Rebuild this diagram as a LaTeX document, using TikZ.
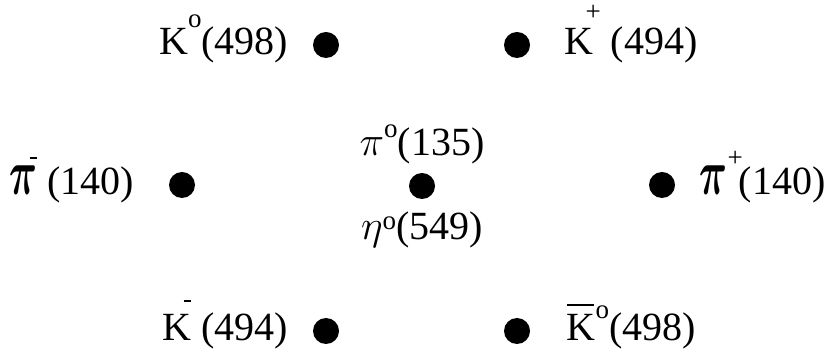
\documentclass[tikz,border=0pt]{standalone}
\usepackage{bm}
\usepackage{fontspec}
\usepackage{graphicx}
\setmainfont{Liberation Serif}
\usetikzlibrary{positioning}
\newcommand{\hi}[2][13.5pt]{\raisebox{#1}{\fontsize{13.5}{14}\selectfont #2}}
\newcommand{\bigpi}{\scalebox{0.78}[1.3]{\fontsize{28}{28}\selectfont$\bm{\pi}$}}
\newcommand{\gk}[1]{{\fontsize{22}{22}\selectfont$#1$}}
\newcommand{\dash}[1]{\llap{\rule[#1]{3.5pt}{1pt}\kern0.5pt}}

\begin{document}
\begin{tikzpicture}[x=0.5pt,y=-0.5pt,
  dot/.style={circle,fill,inner sep=0pt,minimum size=13pt},
  lbl/.style={inner sep=0pt,text height=15pt,text depth=5pt,font=\fontsize{20}{24}\selectfont}]
  \useasboundingbox (0,0) rectangle (829,351);
  % meson octet
  \node[dot] (K0)    at (326,45)  {};
  \node[dot] (Kp)    at (517,45)  {};
  \node[dot] (pim)   at (182,185) {};
  \node[dot] (pi0)   at (422,186) {};
  \node[dot] (pip)   at (662,185) {};
  \node[dot] (Km)    at (326,331) {};
  \node[dot] (K0bar) at (517,331) {};
  % masses
  \node[lbl,left=12pt of K0]       (lK0)    {K\hi{o}(498)};
  \node[lbl,right=17pt of Kp]      (lKp)    {K\kern-0.2em\hi[17pt]{+} (494)};
  \node[lbl,left=17pt of pim]      (lpim)   {\bigpi\dash{18pt} (140)};
  \node[lbl,right=12pt of pip]     (lpip)   {\bigpi\hi[14pt]{+}\kern-2pt(140)};
  \node[lbl,above=3.5pt of pi0]    (lpi0)   {\gk{\pi}\hi[9pt]{o}(135)};
  \node[lbl,below=5pt of pi0]      (leta)   {\gk{\eta}\hi[5pt]{o}(549)};
  \node[lbl,left=12pt of Km]       (lKm)    {K\dash{19.5pt} (494)};
  \node[lbl,right=18pt of K0bar]   (lK0bar) {\rlap{\rule[17.5pt]{13.5pt}{1pt}}K\hi[11pt]{o}(498)};
\end{tikzpicture}
\end{document}
